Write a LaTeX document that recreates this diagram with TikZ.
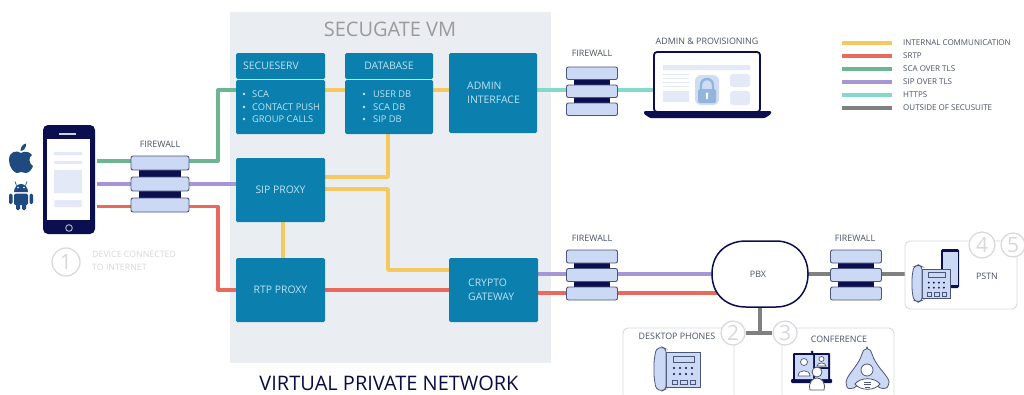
\documentclass[tikz,border=0pt]{standalone}
\usepackage{fontspec}
\setmainfont{Open Sans}
\usetikzlibrary{calc}
\definecolor{cbox}{HTML}{0B7FAE}
\definecolor{cvm}{HTML}{EAEEF3}
\definecolor{cyel}{HTML}{F5C95F}
\definecolor{cred}{HTML}{E96A5C}
\definecolor{cgrn}{HTML}{6CB592}
\definecolor{cpur}{HTML}{A596D8}
\definecolor{ctea}{HTML}{82D9CC}
\definecolor{cgry}{HTML}{808080}
\definecolor{cnavy}{HTML}{0B0F4F}
\definecolor{cslab}{HTML}{CBD9F4}
\definecolor{cedge}{HTML}{4C5679}
\definecolor{cpale}{HTML}{E3E9F6}
\definecolor{clab}{HTML}{4A5264}
\definecolor{cring}{HTML}{D6D8DB}
\definecolor{cmob}{HTML}{1F4A80}
\definecolor{cinb}{HTML}{BFE4F0}
\definecolor{clock}{HTML}{93B5DD}
\definecolor{clockbg}{HTML}{CFDDF2}
\pgfdeclarelayer{bottom}
\pgfdeclarelayer{lines}
\pgfsetlayers{bottom,lines,main}
\tikzset{
  vbox/.style={fill=cbox,rounded corners=1.5pt,inner sep=0pt,text=cinb,font=\fontsize{10.4}{14}\selectfont},
  lbl/.style={inner sep=0pt,text=clab,font=\fontsize{8.9}{10}\selectfont},
  leg/.style={inner sep=0pt,anchor=west,text=clab,font=\fontsize{8}{9}\selectfont},
  bul/.style={inner sep=0pt,anchor=west,text=cinb,font=\fontsize{9.3}{11}\selectfont},
  wire/.style={line width=3.2pt},
  ywire/.style={line width=3.8pt,color=cyel},
  slab/.style={fill=cslab,draw=cedge,line width=0.9pt,rounded corners=2pt,inner sep=0pt},
  frame/.style={draw=cring,line width=0.9pt,rounded corners=5pt},
  ring/.style={circle,draw=cring,fill=white,line width=1.2pt,text=cring,inner sep=0pt,font=\fontsize{21}{21}\selectfont},
  icon/.style={fill=cslab,draw=cedge,line width=0.8pt},
}
\newcommand{\bx}[6]{\node[vbox,minimum width={(#4-#2)*1pt},minimum height={(#5-#3)*1pt},align=left] (#1) at ({(#2+#4)/2},{(#3+#5)/2}) {#6};}
\newcommand{\fw}[6]{%
  \pgfmathsetmacro{\fwdark}{#2-0.36*#3}%
  \pgfmathsetmacro{\fwdarkb}{#2+0.36*#3}%
  \fill[cnavy] (\fwdark,#4) rectangle (\fwdarkb,#4+2*#6+#5);
  \node[slab,minimum width=#3 pt,minimum height=#5 pt] (#1-a) at (#2,#4+#5/2) {};
  \node[slab,minimum width=#3 pt,minimum height=#5 pt] (#1-b) at (#2,#4+#6+#5/2) {};
  \node[slab,minimum width=#3 pt,minimum height=#5 pt] (#1-c) at (#2,#4+2*#6+#5/2) {};}
\newcommand{\deskph}[3]{\begin{scope}[shift={(#1,#2)},scale=#3]
  \fill[icon] (12,5) rectangle (46,40);
  \draw[icon,rounded corners=3pt] (2,2) -- (8,0) -- (12,2) -- (12,42) -- (8,44) -- (2,42) -- (0,30) -- (0,14) -- cycle;
  \fill[cslab,draw=cedge,line width=0.6pt] (19,9) rectangle (40,15);
  \foreach \i in {0,1,2,3}{\foreach \j in {0,1}{\fill[cnavy] (20+\i*6,21+\j*6) circle (1.2);}}
  \draw[cedge,line width=0.5pt] (18,33) rectangle (23,37) (26,33) rectangle (33,37) (36,33) rectangle (41,37);
\end{scope}}
\begin{document}
\begin{tikzpicture}[x=1pt,y=-1pt]
\useasboundingbox (0,0) rectangle (1024,394);
\begin{pgfonlayer}{bottom}
\fill[white] (0,0) rectangle (1024,394);
\fill[cvm] (230,12) rectangle (551,363);
\end{pgfonlayer}
\node[inner sep=0pt,text=cgry!80,font=\fontsize{20}{22}\selectfont] (vmt) at (390,29) {SECUGATE VM};
\node[inner sep=0pt,text=cnavy!85!black,font=\fontsize{20}{22}\selectfont] (vpn) at (389,383) {VIRTUAL PRIVATE NETWORK};

% main boxes
\bx{sech}{236}{53}{325}{79}{}
\bx{secb}{236}{80}{325}{134}{}
\bx{dbh}{345}{53}{433}{79}{}
\bx{dbb}{345}{80}{433}{134}{}
\bx{adm}{449}{53}{537}{133}{}
\bx{sip}{236}{158}{325}{222}{SIP PROXY}
\bx{rtp}{236}{258}{325}{322}{RTP PROXY}
\bx{cry}{449}{258}{538}{322}{}
\node[vbox,fill=none,anchor=west] (t1) at (243,66) {SECUESERV};
\node[vbox,fill=none] (t2) at (389,66) {DATABASE};
\node[vbox,fill=none,anchor=west,align=left] (t3) at (467,93) {ADMIN\\INTERFACE};
\node[vbox,fill=none,anchor=west,align=left] (t4) at (468,290) {CRYPTO\\GATEWAY};
\foreach \n/\y/\s in {a/94/SCA,b/107/CONTACT PUSH,c/119/GROUP CALLS}{
  \fill[cinb] (244,\y) circle (1.4);
  \node[bul] (s\n) at (252,\y) {\s};}
\foreach \n/\y/\s in {a/94/USER DB,b/107/SCA DB,c/119/SIP DB}{
  \fill[cinb] (364,\y) circle (1.4);
  \node[bul] (d\n) at (373,\y) {\s};}

% firewalls
\fw{fwa}{160}{58}{156}{14}{21}
\fw{fwb}{592}{51}{67}{12.5}{18}
\fw{fwc}{592}{51}{250}{13}{18.5}
\fw{fwd}{856}{51}{250}{13}{18.5}
\node[lbl] (fl1) at (160,144) {FIREWALL};
\node[lbl] (fl2) at (592,53) {FIREWALL};
\node[lbl] (fl3) at (592,238) {FIREWALL};
\node[lbl] (fl4) at (855,238) {FIREWALL};

% phone
\node[fill=cnavy,rounded corners=5pt,minimum width=52pt,minimum height=109pt,inner sep=0pt] (phone) at (69,179.5) {};
\fill[white] (47,139) rectangle (90,220);
\fill[cpale!90!black] (59,132.5) rectangle (76,134.5);
\fill[cpale] (54,152) rectangle (82,155) (54,161) rectangle (82,164) (54,170) rectangle (82,193);
\fill[cpale,rounded corners=2pt] (54,200) rectangle (82,207);
\draw[cpale!80!black,line width=0.9pt] (69,228) circle (3.3);
\coordinate (phoneR) at (97,184);

% apple
\fill[cmob] (21,153) .. controls (17,150) and (9,151) .. (9,160) .. controls (9,167) and (14,173) .. (17,173)
  .. controls (19,173) and (20,172) .. (21,172) .. controls (23,172) and (24,173) .. (26,173)
  .. controls (29,173) and (32,169) .. (33,166) .. controls (29,164) and (28,157) .. (32,155)
  .. controls (29,151) and (24,151) .. (21,153) -- cycle;
\fill[cmob] (20.5,151) .. controls (20.5,147) and (23,144) .. (26,143.5) .. controls (26.5,147) and (24,151) .. (20.5,151) -- cycle;
% android
\fill[cmob] (14,192) arc[start angle=180,end angle=360,x radius=7,y radius=8] -- cycle;
\fill[cmob,rounded corners=1.5pt] (14,193.5) rectangle (28,205);
\fill[cmob,rounded corners=1.5pt] (9,193.5) rectangle (12.5,204) (29.5,193.5) rectangle (33,204) (16,203) rectangle (20,210) (22,203) rectangle (26,210);
\draw[cmob,line width=0.7pt] (16.5,185.5) -- (15,181.5) (25.5,185.5) -- (27,181.5);
\fill[white] (18,187.5) circle (0.8) (24,187.5) circle (0.8);

\node[ring,minimum size=28pt] (n1) at (66,262) {1};
\node[inner sep=0pt,anchor=west,align=left,text=cring,font=\fontsize{8.8}{13}\selectfont] (devt) at (92,260.5) {DEVICE CONNECTED\\TO INTERNET};

% laptop
\node[draw=cnavy,fill=white,line width=1.8pt,rounded corners=3pt,minimum width=106pt,minimum height=60pt,inner sep=0pt] (lap) at (707,82) {};
\fill[cnavy,rounded corners=1pt] (644,111) -- (771,111) -- (771,114) -- (765,118) -- (650,118) -- (644,114) -- cycle;
\fill[cpale] (663,65) rectangle (750,70) (663,91) rectangle (689,102);
\fill[cpale,rounded corners=3pt] (730,74) rectangle (750,87) (730,91) rectangle (750,105);
\draw[cpale,line width=0.6pt] (663,74) -- (689,74) (663,78) -- (689,78) (663,82) -- (689,82) (663,86) -- (689,86);
\fill[clockbg,rounded corners=6pt] (695,75) rectangle (719,105);
\draw[line width=2.4pt,color=clock] (701,90) -- (701,85) arc[start angle=180,end angle=360,radius=6] -- (713,90);
\fill[clock,rounded corners=1.5pt] (698,89) rectangle (716,103);
\fill[white] (707,94) circle (1.6);
\fill[white] (706.3,94) rectangle (707.7,99);
\node[lbl] (lapt) at (707,41) {ADMIN \& PROVISIONING};

% legend
\foreach \n/\y/\c/\s in {a/43/cyel/INTERNAL COMMUNICATION,b/56/cred/SRTP,c/69/cgrn/SCA OVER TLS,d/82/cpur/SIP OVER TLS,e/95/ctea/HTTPS,f/108/cgry/OUTSIDE OF SECUSUITE}{
  \coordinate (ls\n) at (842,\y);
  \node[leg] (lt\n) at (903,\y) {\s};
  \draw[\c,wire] (ls\n) -- (ls\n -| 892,0);}

% PBX
\coordinate (pbx) at (760,274);
\coordinate (pbxw) at (712,274);
\coordinate (pbxe) at (808,274);
\coordinate (pbxs) at (760,307);
\fill[white,draw=cnavy,line width=1.5pt] (712,274) .. controls (712,252) and (728,241) .. (746,241) -- (776,241)
  .. controls (794,241) and (808,254) .. (808,274) .. controls (808,294) and (794,307) .. (776,307) -- (746,307)
  .. controls (728,307) and (712,296) .. (712,274) -- cycle;
\node[lbl] (pbxt) at (758,274) {PBX};

% frames
\draw[frame] (623,394.5) -- (623,328) -- (734,328) -- (734,394.5);
\draw[frame] (782,394.5) -- (782,328) -- (894,328) -- (894,394.5);
\node[frame,draw=cring,minimum width=112pt,minimum height=68pt,inner sep=0pt] (pstn) at (961,275) {};
\node[ring,minimum size=24pt] (n2) at (733,333) {2};
\node[ring,minimum size=24pt] (n3) at (785,333) {3};
\node[ring,minimum size=26pt] (n4) at (982,245) {4};
\node[ring,minimum size=24pt] (n5) at (1013,245) {5};
\node[lbl] (dpt) at (677,336) {DESKTOP PHONES};
\node[lbl] (cot) at (839,339) {CONFERENCE};
\node[lbl] (pst) at (987,276) {PSTN};

\deskph{654}{347}{1}
% mobile and PSTN phone
\fill[cnavy,rounded corners=1.5pt] (941,249) rectangle (959,288);
\fill[cslab] (942.5,252) rectangle (957.5,285);
\deskph{912}{265}{0.84}

% conference screen
\fill[cnavy,rounded corners=1pt] (793,353) rectangle (830,381);
\fill[cnavy,rounded corners=1pt] (791,379) rectangle (832,383);
\fill[cslab] (795,355) rectangle (813,379) (815,355) rectangle (828,367) (815,369) rectangle (828,379);
\fill[cnavy] (812,352) circle (1.5);
\draw[cedge,fill=white,line width=0.7pt] (804,362) circle (3.5) (798,376) .. controls (798,369) and (810,369) .. (810,376) -- cycle;
\draw[cedge,fill=white,line width=0.7pt] (821.5,359) circle (2.5);
\draw[cedge,fill=white,line width=0.7pt] (817,366) .. controls (817,362) and (826,362) .. (826,366) -- cycle;
\draw[cedge,fill=white,line width=0.8pt] (810,390) .. controls (808,382) and (813,378) .. (817,378) .. controls (821,378) and (826,382) .. (824,390) -- cycle;
\draw[cedge,fill=white,line width=0.8pt] (817,372) circle (5);
% conference phone
\draw[icon,rounded corners=3pt] (867,350) .. controls (871,350) and (873,358) .. (877,364) .. controls (881,370) and (889,378) .. (889,385)
  .. controls (886,389) and (880,389) .. (876,384) -- (858,384) .. controls (854,389) and (848,389) .. (846,385)
  .. controls (846,378) and (853,370) .. (857,364) .. controls (861,358) and (863,350) .. (867,350) -- cycle;
\draw[cedge,fill=white,line width=0.8pt] (867,370) circle (6);
\draw[cedge,fill=white,line width=0.8pt] (855,384) .. controls (860,377) and (875,377) .. (880,384) .. controls (875,391) and (860,391) .. (855,384) -- cycle;
\draw[cedge,line width=0.5pt] (864,382) -- (871,382) (864,384.5) -- (871,384.5) (865,387) -- (870,387);

% connectors
\begin{pgfonlayer}{lines}
\coordinate (bus) at (218,0);
\coordinate (yg) at (0,161);
\coordinate (yr) at (0,206.5);
\coordinate (y90) at (0,90);
\coordinate (yt) at (0,177);
\coordinate (yb) at (0,189);
\coordinate (yc) at (0,270);
\coordinate (xdb) at (388,0);
\coordinate (xsr) at (283,0);
\coordinate (yp) at (0,274);
\coordinate (yq) at (0,293);
% green
\draw[cgrn,wire,line join=round] (phoneR |- yg) -- (bus |- yg) -- (bus |- y90) -- (secb.west |- y90);
% purple
\draw[cpur,wire] (phoneR |- yb) ++(0,-5) -- (sip.west |- 0,184);
% red
\draw[cred,wire,line join=round] (phoneR |- yr) -- (bus |- yr) -- (bus |- rtp.west) -- (rtp.west);
\draw[cred,wire] (rtp.east) -- (rtp.east -| cry.west);
\draw[cred,wire] (cry.east |- yq) -- (pbxw |- yq) -- ([xshift=10pt]pbxw |- yq);
\draw[cpur,wire] (cry.east |- yp) -- (pbxw |- yp);
% teal
\draw[ctea,wire] (adm.east |- y90) -- (lap.west |- y90);
% yellow
\draw[ywire] (secb.east |- y90) -- (dbb.west |- y90);
\draw[ywire] (dbb.east |- y90) -- (adm.west |- y90);
\draw[ywire,line join=round] (xdb |- dbb.south) -- (xdb |- yt) -- (sip.east |- yt);
\draw[ywire,line join=round] (sip.east |- yb) -- (xdb |- yb) -- (xdb |- yc) -- (cry.west |- yc);
\draw[ywire] (xsr |- sip.south) -- (xsr |- rtp.north);
% gray
\draw[cgry,wire] (pbxe) -- (pstn.west |- pbxe);
\draw[cgry,wire] (pbxs) -- (pbxs |- n2);
\draw[cgry,wire] (n2.east) -- (n3.west);
\end{pgfonlayer}
\end{tikzpicture}
\end{document}
